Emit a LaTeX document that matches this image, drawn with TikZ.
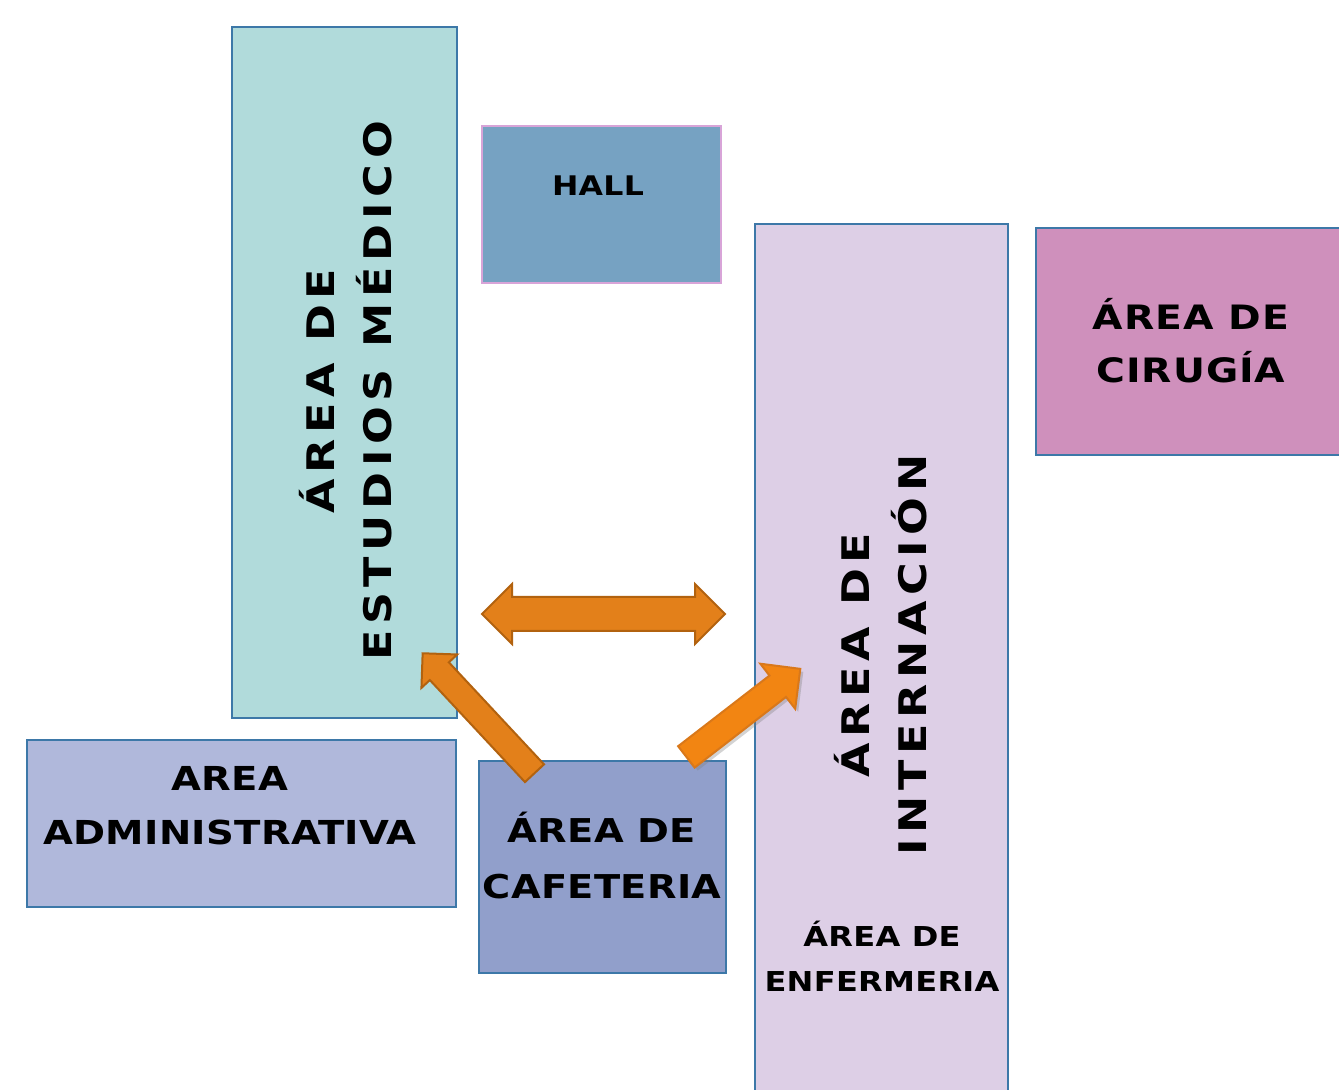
\documentclass[tikz,border=0pt]{standalone}
\usepackage{fontspec}
\usetikzlibrary{shapes.arrows,shadows}
\newfontfamily\planfont[FakeStretch=1.3,LetterSpace=1]{DejaVu Sans Condensed}

\definecolor{estudfill}{HTML}{B1DBDB}
\definecolor{hallfill}{HTML}{76A2C2}
\definecolor{hallline}{HTML}{D8A4D8}
\definecolor{internfill}{HTML}{DDCFE6}
\definecolor{cirugfill}{HTML}{CF90BC}
\definecolor{adminfill}{HTML}{B0B8DB}
\definecolor{cafefill}{HTML}{919FCB}
\definecolor{arealine}{HTML}{3D78A8}
\definecolor{arrowfill}{HTML}{E3801A}
\definecolor{arrowline}{HTML}{B2620F}
\definecolor{brightfill}{HTML}{F28512}
\definecolor{brightline}{HTML}{D9781A}

\tikzset{
    area/.style={draw=arealine, line width=0.75pt, anchor=north west, inner sep=0pt, outer sep=0pt},
    lbl/.style={align=center, inner sep=0pt},
    flecha/.style={fill=arrowfill, draw=arrowline, line width=1pt, inner xsep=0pt, outer sep=0pt},
}

\begin{document}
\begin{tikzpicture}[x=0.5pt, y=-0.5pt]
    \useasboundingbox (0,0) rectangle (1339,1090);
    \clip (0,0) rectangle (1339,1090);

    % areas
    \begin{scope}[every node/.append style={area}]
        \node[fill=estudfill, minimum width=112.5pt, minimum height=345.5pt] (estud) at (232,27) {};
        \node[fill=hallfill, draw=hallline, minimum width=119.5pt, minimum height=78.5pt] (hall) at (482,126) {};
        \node[fill=internfill, minimum width=126.5pt, minimum height=440pt] (intern) at (755,224) {};
        \node[fill=cirugfill, minimum width=155pt, minimum height=113.5pt] (cirug) at (1036,228) {};
        \node[fill=adminfill, minimum width=214.5pt, minimum height=83.5pt] (admin) at (27,740) {};
        \node[fill=cafefill, minimum width=123.5pt, minimum height=106pt] (cafe) at (479,761) {};
    \end{scope}

    % labels
    \begin{scope}[every node/.append style={lbl}]
        \node[rotate=90, font={\planfont\bfseries\addfontfeature{LetterSpace=15}\fontsize{19}{28.5}\selectfont}] (estudtxt) at (346,391) {ÁREA DE\\ESTUDIOS MÉDICO};
        \node[font={\planfont\bfseries\fontsize{13.5}{14}\selectfont}] (halltxt) at (598,186) {HALL};
        \node[rotate=90, font={\planfont\bfseries\addfontfeature{LetterSpace=15}\fontsize{19}{28.5}\selectfont}] (interntxt) at (881,655) {ÁREA DE\\INTERNACIÓN};
        \node[font={\planfont\bfseries\fontsize{13.7}{22.5}\selectfont}] (enfertxt) at (882,956) {ÁREA DE\\ENFERMERIA};
        \node[font={\planfont\bfseries\addfontfeature{LetterSpace=3}\fontsize{16.8}{26.5}\selectfont}] (cirugtxt) at (1191,341) {ÁREA DE\\CIRUGÍA};
        \node[font={\planfont\bfseries\fontsize{16.5}{27}\selectfont}] (admintxt) at (230,806) {AREA\\ADMINISTRATIVA};
        \node[font={\planfont\bfseries\fontsize{16.4}{28}\selectfont}] (cafetxt) at (602,856) {ÁREA DE\\CAFETERIA};
    \end{scope}

    % arrows
    \begin{scope}[every node/.append style={flecha}]
        \node[double arrow, inner ysep=8pt, double arrow head extend=6.5pt, minimum height=121.5pt] (ida) at (603.5,614) {};
        \node[single arrow, inner ysep=6pt, single arrow head extend=5.75pt, minimum height=82pt, rotate=133] (subida) at (483,718) {};
        \node[single arrow, inner ysep=6.25pt, single arrow head extend=7.5pt, minimum height=72pt, rotate=37.7,
              fill=brightfill, draw=brightline, drop shadow={shadow xshift=1.5pt, shadow yshift=-1.5pt, opacity=0.35}] (entrada) at (738,717) {};
    \end{scope}
\end{tikzpicture}
\end{document}
